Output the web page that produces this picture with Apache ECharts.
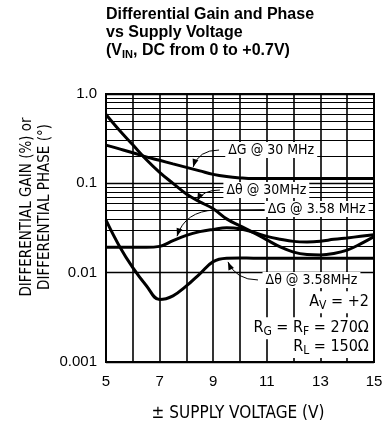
<!DOCTYPE html>
<html>
<head>
<meta charset="utf-8">
<script src="https://cdn.jsdelivr.net/npm/echarts@6/dist/echarts.min.js"></script>
<style>
html,body{margin:0;padding:0;background:#fff;}
#chart{width:385px;height:428px;}
</style>
</head>
<body>
<div id="chart"></div>
<script>
// 数据
var voltage  = [5, 5.5, 6, 6.5, 7, 7.5, 8, 8.5, 9, 9.5, 10, 10.5, 11, 11.5, 12, 12.5, 13, 13.5, 14, 14.5, 15];
var gain30   = [0.268, 0.243, 0.220, 0.198, 0.181, 0.165, 0.151, 0.138, 0.126, 0.119, 0.115, 0.113, 0.113, 0.113, 0.113, 0.113, 0.113, 0.113, 0.113, 0.113, 0.113];
var phase30  = [0.59, 0.393, 0.27, 0.185, 0.133, 0.100, 0.076, 0.062, 0.052, 0.040, 0.0334, 0.0281, 0.0233, 0.0194, 0.0170, 0.0160, 0.0158, 0.0164, 0.0179, 0.0210, 0.0253];
var gain358  = [0.0193, 0.0193, 0.0192, 0.0192, 0.0197, 0.0228, 0.0262, 0.0288, 0.0305, 0.0318, 0.0310, 0.0283, 0.0255, 0.0237, 0.0224, 0.0221, 0.0225, 0.0236, 0.0245, 0.0255, 0.0265];
var phase358 = [0.0387, 0.0198, 0.0114, 0.0072, 0.0050, 0.0055, 0.0071, 0.0097, 0.0133, 0.0145, 0.0146, 0.0145, 0.0145, 0.0145, 0.0145, 0.0145, 0.0145, 0.0145, 0.0145, 0.0145, 0.0145];
var yTickLabels = ['0.001', '0.01', '0.1', '1.0'];
var xTickLabels = ['5', '7', '9', '11', '13', '15'];

// 对数网格的细线 2..9
var minorGrid = [];
for (var d = -3; d < 0; d++) {
    for (var k = 2; k <= 9; k++) {
        minorGrid.push(k * Math.pow(10, d));
    }
}

function pairs(ys) {
    return voltage.map(function (v, i) { return [v, ys[i]]; });
}

var chart = echarts.init(document.getElementById('chart'));
var strokeFont = "'DejaVu Sans Condensed', 'DejaVu Sans'";

function curve(name, ys) {
    return {
        name: name,
        type: 'line',
        data: pairs(ys),
        smooth: 0.4,
        symbol: 'none',
        z: 5,
        lineStyle: { color: '#000', width: 3 },
        animation: false
    };
}

var option = {
    animation: false,
    title: {
        left: 106,
        top: 6,
        padding: 0,
        text: '{b|Differential Gain and Phase}\n{b|vs Supply Voltage}\n{b|(V}{s|IN}{b|, DC from 0 to +0.7V)}',
        textStyle: {
            rich: {
                b: { fontFamily: 'Liberation Sans', fontWeight: 'bold', fontSize: 16, color: '#000', lineHeight: 18 },
                s: { fontFamily: 'Liberation Sans', fontWeight: 'bold', fontSize: 11, color: '#000', lineHeight: 18, padding: [7, 0, 0, 0] }
            }
        }
    },
    grid: {
        left: 106,
        right: 11,
        top: 94,
        bottom: 66,
        show: true,
        borderColor: '#000',
        borderWidth: 2,
        outerBoundsMode: 'none'
    },
    xAxis: {
        type: 'value',
        min: 5,
        max: 15,
        interval: 1,
        axisLine: { show: false },
        axisTick: { show: false },
        axisLabel: {
            margin: 12,
            fontFamily: 'Liberation Sans',
            fontSize: 15,
            color: '#000',
            formatter: function (v) {
                return xTickLabels.indexOf(String(v)) >= 0 ? String(v) : '';
            }
        },
        splitLine: { show: true, lineStyle: { color: '#000', width: 1.6 } }
    },
    yAxis: {
        type: 'log',
        logBase: 10,
        min: 0.001,
        max: 1,
        axisLine: { show: false },
        axisTick: { show: false },
        axisLabel: {
            margin: 9,
            fontFamily: 'Liberation Sans',
            fontSize: 15,
            color: '#000',
            formatter: function (v) {
                return yTickLabels[Math.round(Math.log10(v)) + 3];
            }
        },
        splitLine: { show: true, lineStyle: { color: '#000', width: 1.3 } }
    },
    series: [
        {
            type: 'line',
            data: [],
            z: 1,
            silent: true,
            markLine: {
                silent: true,
                symbol: ['none', 'none'],
                animation: false,
                label: { show: false },
                lineStyle: { color: '#000', width: 1, type: 'solid' },
                data: minorGrid.map(function (v) { return { yAxis: v }; })
            }
        },
        curve('ΔG @ 30 MHz', gain30),
        curve('Δθ @ 30MHz', phase30),
        curve('ΔG @ 3.58 MHz', gain358),
        curve('Δθ @ 3.58MHz', phase358)
    ]
};
chart.setOption(option);

// 标注 (数据坐标)
function px(p) {
    return chart.convertToPixel({ gridIndex: 0 }, p);
}

function label(pos, text, align, size) {
    var p = px(pos);
    size = size || 14;
    return {
        type: 'text',
        x: p[0],
        y: p[1],
        z: 20,
        style: {
            text: text,
            align: align || 'left',
            verticalAlign: 'middle',
            fontFamily: strokeFont,
            fontSize: size,
            fill: '#000',
            backgroundColor: '#fff',
            padding: [1, 3, 1, 3],
            rich: {
                s: { fontFamily: strokeFont, fontSize: size - 4, fill: '#000', padding: [8, 0, 0, 0] }
            }
        }
    };
}

function arrow(start, ctrl, end, lead) {
    var s = px(start), c = px(ctrl), e = px(end);
    var items = [];
    if (lead) {
        var l = px(lead);
        items.push({
            type: 'line', z: 15,
            shape: { x1: l[0], y1: l[1], x2: s[0], y2: s[1] },
            style: { stroke: '#000', lineWidth: 1 }
        });
    }
    items.push({
        type: 'bezierCurve', z: 15,
        shape: { x1: s[0], y1: s[1], cpx1: c[0], cpy1: c[1], x2: e[0], y2: e[1] },
        style: { stroke: '#000', lineWidth: 1, fill: null }
    });
    var dx = e[0] - c[0], dy = e[1] - c[1];
    var len = Math.sqrt(dx * dx + dy * dy);
    dx /= len; dy /= len;
    var bx = e[0] - dx * 8, by = e[1] - dy * 8;
    items.push({
        type: 'polygon', z: 16,
        shape: { points: [[e[0], e[1]], [bx - dy * 3, by + dx * 3], [bx + dy * 3, by - dx * 3]] },
        style: { fill: '#000' }
    });
    return items;
}

var graphics = [];
graphics.push(label([9.45, 0.236], 'ΔG @ 30 MHz'));
graphics = graphics.concat(arrow([9.22, 0.236], [8.45, 0.236], [8.25, 0.152]));
graphics.push(label([9.38, 0.0842], 'Δθ @ 30MHz'));
graphics = graphics.concat(arrow([9.25, 0.0842], [8.6, 0.0842], [8.40, 0.0634]));
graphics.push(label([10.92, 0.0515], 'ΔG @ 3.58 MHz'));
graphics = graphics.concat(arrow([9.07, 0.0502], [7.95, 0.0489], [7.65, 0.0256], [10.95, 0.0508]));
graphics.push(label([10.84, 0.00829], 'Δθ @ 3.58MHz'));
graphics = graphics.concat(arrow([10.67, 0.00829], [9.85, 0.00829], [9.55, 0.0132]));
graphics.push(label([14.92, 0.00467], 'A{s|V} = +2', 'right', 16));
graphics.push(label([14.92, 0.00239], 'R{s|G} = R{s|F} = 270Ω', 'right', 16));
graphics.push(label([14.92, 0.00147], 'R{s|L} = 150Ω', 'right', 16));

// 坐标轴名称
graphics.push({
    type: 'text',
    x: 36, y: 207,
    rotation: Math.PI / 2,
    style: {
        text: 'DIFFERENTIAL GAIN (%) or\nDIFFERENTIAL PHASE (°)',
        align: 'center',
        verticalAlign: 'middle',
        fontFamily: strokeFont,
        fontSize: 15,
        lineHeight: 18,
        fill: '#000'
    }
});
graphics.push({
    type: 'text',
    x: 238, y: 414,
    style: {
        text: '± SUPPLY VOLTAGE (V)',
        align: 'center',
        verticalAlign: 'middle',
        fontFamily: strokeFont,
        fontSize: 17,
        fill: '#000'
    }
});

chart.setOption({ graphic: graphics });
</script>
</body>
</html>
